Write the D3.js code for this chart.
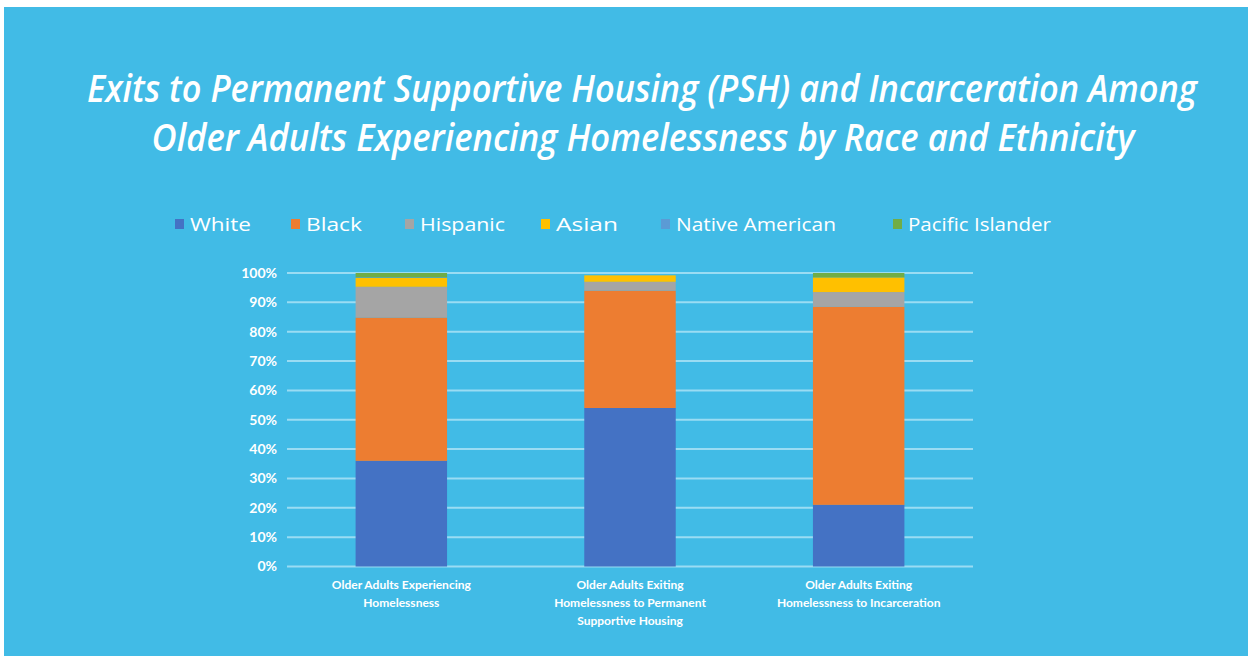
<!DOCTYPE html>
<html>
<head>
<meta charset="utf-8">
<script src="https://cdn.jsdelivr.net/npm/d3@7"></script>
<style>
  html, body { margin: 0; padding: 0; background: #ffffff; }
  svg { display: block; }
</style>
</head>
<body>
<svg id="chart" width="1252" height="660"></svg>
<script>
const titleLines = [
  "Exits to Permanent Supportive Housing (PSH) and Incarceration Among",
  "Older Adults Experiencing Homelessness by Race and Ethnicity"
];
const categories = [
  ["Older Adults Experiencing", "Homelessness"],
  ["Older Adults Exiting", "Homelessness to Permanent", "Supportive Housing"],
  ["Older Adults Exiting", "Homelessness to Incarceration"]
];
const seriesNames = ["White", "Black", "Hispanic", "Asian", "Native American", "Pacific Islander"];
const seriesColors = ["#4472C4", "#ED7D31", "#A5A5A5", "#FFC000", "#5B9BD5", "#70AD47"];
// values in percent, per category
const white = [36, 54, 21];
const black = [48.8, 40, 67.5];
const hispanic = [10.5, 3, 5];
const asian = [3, 2.2, 5];
const nativeAmerican = [0.2, 0, 0];
const pacificIslander = [1.5, 0, 1.5];
const yTicks = [0, 10, 20, 30, 40, 50, 60, 70, 80, 90, 100];

const seriesValues = [white, black, hispanic, asian, nativeAmerican, pacificIslander];
const data = categories.map((c, i) => {
  const row = { key: i };
  seriesNames.forEach((s, j) => row[s] = seriesValues[j][i]);
  return row;
});

const svg = d3.select("#chart");

// background panel
svg.append("rect").attr("x", 4).attr("y", 7).attr("width", 1244).attr("height", 649)
  .attr("fill", "#41BBE6");

// title
const titleFont = "'Open Sans', 'DejaVu Sans', sans-serif";
const tLayout = [{ y: 102, len: 1110, cx: 642 }, { y: 151, len: 983, cx: 643 }];
titleLines.forEach((t, i) => {
  svg.append("text")
    .attr("transform", `translate(${tLayout[i].cx},${tLayout[i].y}) scale(1,1.2)`)
    .attr("text-anchor", "middle")
    .attr("font-family", titleFont)
    .attr("font-style", "italic")
    .attr("font-weight", 600)
    .attr("font-size", 31)
    .attr("fill", "#ffffff")
    .attr("textLength", tLayout[i].len)
    .attr("lengthAdjust", "spacingAndGlyphs")
    .text(t);
});

// legend
const legendX = [175, 291, 405, 541, 661, 893];
const legendW = [61, 56, 85, 62, 160, 143];
const legend = svg.append("g");
seriesNames.forEach((s, i) => {
  legend.append("rect").attr("x", legendX[i]).attr("y", 219).attr("width", 9).attr("height", 10)
    .attr("fill", seriesColors[i]);
  legend.append("text").attr("x", legendX[i] + 15).attr("y", 231)
    .attr("font-family", "'Open Sans', sans-serif")
    .attr("font-size", 19)
    .attr("fill", "#ffffff")
    .attr("textLength", legendW[i])
    .attr("lengthAdjust", "spacingAndGlyphs")
    .text(s);
});

// scales
const x = d3.scaleBand().domain(d3.range(categories.length)).range([287, 973])
  .paddingInner(0.6).paddingOuter(0.3);
const y = d3.scaleLinear().domain([0, 100]).range([566.5, 273]);

// gridlines
svg.append("g").selectAll("line").data(yTicks).join("line")
  .attr("x1", 287).attr("x2", 973)
  .attr("y1", d => y(d)).attr("y2", d => y(d))
  .attr("stroke", "#9ADCF3").attr("stroke-width", 2);

// y axis labels
const yAxis = d3.axisLeft(y).tickValues(yTicks).tickFormat(d => d + "%").tickSize(0).tickPadding(0);
const yg = svg.append("g").attr("transform", "translate(277,0)").call(yAxis);
yg.select(".domain").remove();
yg.selectAll("text")
  .attr("font-family", "'Lato', 'DejaVu Sans', sans-serif")
  .attr("font-weight", 700)
  .attr("font-size", 14)
  .attr("fill", "#ffffff");

// stacked bars
const stack = d3.stack().keys(seriesNames)(data);
svg.append("g").selectAll("g").data(stack).join("g")
  .attr("fill", (d, i) => seriesColors[i])
  .selectAll("rect").data(d => d).join("rect")
  .attr("x", d => x(d.data.key))
  .attr("width", x.bandwidth())
  .attr("y", d => y(d[1]))
  .attr("height", d => Math.max(0, y(d[0]) - y(d[1])));

// x labels
const xl = svg.append("g");
categories.forEach((lines, i) => {
  const cx = x(i) + x.bandwidth() / 2;
  lines.forEach((ln, k) => {
    xl.append("text")
      .attr("x", cx).attr("y", 589 + k * 18)
      .attr("text-anchor", "middle")
      .attr("font-family", "'Lato', 'DejaVu Sans', sans-serif")
      .attr("font-weight", 700)
      .attr("font-size", 12)
      .attr("fill", "#ffffff")
      .text(ln);
  });
});
</script>
</body>
</html>
